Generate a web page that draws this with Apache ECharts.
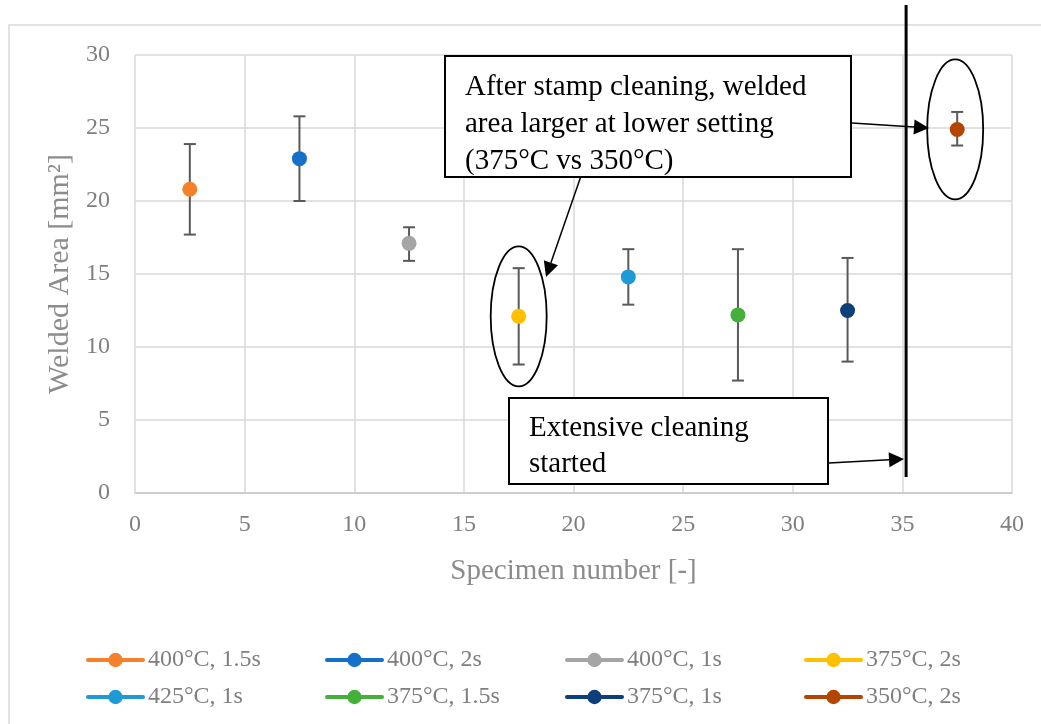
<!DOCTYPE html>
<html>
<head>
<meta charset="utf-8">
<script src="https://cdn.jsdelivr.net/npm/echarts@6/dist/echarts.min.js"></script>
<style>
  html, body { margin: 0; padding: 0; background: #fff; }
  #chart { width: 1041px; height: 724px; }
</style>
</head>
<body>
<div id="chart"></div>
<script>
// Welding trials: mean welded area with min/max spread per parameter set
const seriesNames = ['400°C, 1.5s', '400°C, 2s', '400°C, 1s', '375°C, 2s',
                     '425°C, 1s', '375°C, 1.5s', '375°C, 1s', '350°C, 2s'];
const specimenPos = [2.5, 7.5, 12.5, 17.5, 22.5, 27.5, 32.5, 37.5];
const meanArea    = [20.8, 22.9, 17.1, 12.1, 14.8, 12.2, 12.5, 24.9];
const lowArea     = [17.7, 20.0, 15.9, 8.8, 12.9, 7.7, 9.0, 23.8];
const highArea    = [23.9, 25.8, 18.2, 15.4, 16.7, 16.7, 16.1, 26.1];
const colors      = ['#f5822a', '#1570c8', '#a5a5a5', '#ffc000',
                     '#1e9bd7', '#44b03a', '#0d3f7a', '#b34500'];
const xTicks = [0, 5, 10, 15, 20, 25, 30, 35, 40];
const yTicks = [0, 5, 10, 15, 20, 25, 30];
const cleaningStart = 35.17;          // specimen where extensive cleaning began
const circledIdx = [3, 7];            // 375°C 2s vs 350°C 2s comparison

const FONT = '"Liberation Serif", "Times New Roman", serif';
const GRID = '#d9d9d9';

const chart = echarts.init(document.getElementById('chart'));

const pointSeries = seriesNames.map((name, i) => ({
  name,
  type: 'line',
  data: [[specimenPos[i], meanArea[i]]],
  symbol: 'circle',
  symbolSize: 15,
  showSymbol: true,
  itemStyle: { color: colors[i] },
  lineStyle: { color: colors[i], width: 4 },
  z: 3
}));

const errorSeries = {
  type: 'custom',
  name: 'range',
  data: specimenPos.map((x, i) => [x, lowArea[i], highArea[i]]),
  encode: { x: 0, y: [1, 2] },
  z: 2,
  silent: true,
  renderItem(params, api) {
    const lo = api.coord([api.value(0), api.value(1)]);
    const hi = api.coord([api.value(0), api.value(2)]);
    const w = 6;
    const st = { stroke: '#595959', lineWidth: 2 };
    return {
      type: 'group',
      children: [
        { type: 'line', shape: { x1: lo[0], y1: lo[1], x2: hi[0], y2: hi[1] }, style: st },
        { type: 'line', shape: { x1: lo[0] - w, y1: lo[1], x2: lo[0] + w, y2: lo[1] }, style: st },
        { type: 'line', shape: { x1: hi[0] - w, y1: hi[1], x2: hi[0] + w, y2: hi[1] }, style: st }
      ]
    };
  }
};

const legendCols = [[0, 4], [1, 5], [2, 6], [3, 7]];
const legendLeft = [86, 325, 565, 804];
const legends = legendCols.map((col, c) => ({
  orient: 'vertical',
  left: legendLeft[c],
  top: 648,
  padding: 0,
  itemWidth: 55,
  itemHeight: 18,
  itemGap: 13,
  itemTextGap: 0,
  selectedMode: false,
  lineStyle: { width: 4, cap: 'round' },
  data: col.map(i => seriesNames[i]),
  textStyle: { fontFamily: FONT, fontSize: 24, lineHeight: 24, color: '#7f7f7f' }
}));

chart.setOption({
  animation: false,
  backgroundColor: '#fff',
  grid: { left: 135, right: 29, top: 55, bottom: 231 },
  xAxis: {
    type: 'value', min: 0, max: 40, interval: 5,
    name: 'Specimen number [-]', nameLocation: 'middle', nameGap: 64,
    nameTextStyle: { fontFamily: FONT, fontSize: 29, color: '#8c8c8c', verticalAlign: 'top' },
    axisLine: { show: true, lineStyle: { color: '#c8c8c8', width: 1.5 } },
    axisTick: { show: false },
    axisLabel: { margin: 20, fontFamily: FONT, fontSize: 24, color: '#7f7f7f',
                 formatter: v => xTicks.includes(v) ? String(v) : '' },
    splitLine: { show: true, lineStyle: { color: GRID, width: 1.5 } }
  },
  yAxis: {
    type: 'value', min: 0, max: 30, interval: 5,
    name: 'Welded Area [mm²]', nameLocation: 'middle', nameGap: 58,
    nameTextStyle: { fontFamily: FONT, fontSize: 30, color: '#8c8c8c' },
    axisLine: { show: false },
    axisTick: { show: false },
    axisLabel: { margin: 25, fontFamily: FONT, fontSize: 24, color: '#7f7f7f',
                 formatter: v => yTicks.includes(v) ? String(v) : '' },
    splitLine: { show: true, lineStyle: { color: GRID, width: 1.5 } }
  },
  legend: legends,
  series: [errorSeries, ...pointSeries]
});

// Annotation overlay: call-out boxes, arrows, ellipses and the cleaning marker
function arrow(x1, y1, x2, y2, len, half) {
  const dx = x2 - x1, dy = y2 - y1;
  const d = Math.hypot(dx, dy);
  const ux = dx / d, uy = dy / d;
  const bx = x2 - ux * len, by = y2 - uy * len;
  return [
    { type: 'line', shape: { x1, y1, x2: bx, y2: by }, style: { stroke: '#000', lineWidth: 1.5 }, z: 20 },
    { type: 'polygon', shape: { points: [[x2, y2], [bx - uy * half, by + ux * half], [bx + uy * half, by - ux * half]] },
      style: { fill: '#000' }, z: 20 }
  ];
}

function textBox(x, y, w, h, lines, tx, firstLineY, lineStep) {
  const els = [{ type: 'rect', shape: { x, y, width: w, height: h },
                 style: { fill: '#fff', stroke: '#000', lineWidth: 2 }, z: 15 }];
  lines.forEach((t, k) => els.push({
    type: 'text', x: tx, y: firstLineY + k * lineStep, z: 16,
    style: { text: t, font: '29px ' + FONT, fill: '#000', verticalAlign: 'middle' }
  }));
  return els;
}

const cx = chart.convertToPixel({ xAxisIndex: 0 }, cleaningStart);
const ell = circledIdx.map(i => chart.convertToPixel({ gridIndex: 0 }, [specimenPos[i], meanArea[i]]));
const ellipseY = circledIdx.map(i => chart.convertToPixel({ yAxisIndex: 0 }, (lowArea[i] + highArea[i]) / 2));

const elements = [
  // light frame around the chart area
  { type: 'rect', shape: { x: 9, y: 25, width: 1100, height: 800 },
    style: { fill: 'none', stroke: '#d9d9d9', lineWidth: 1.5 }, z: 0, silent: true },
  { type: 'line', shape: { x1: cx, y1: 5, x2: cx, y2: 477 },
    style: { stroke: '#000', lineWidth: 3 }, z: 18 },
  { type: 'ellipse', shape: { cx: ell[0][0], cy: ellipseY[0], rx: 28, ry: 70 },
    style: { fill: 'none', stroke: '#000', lineWidth: 1.8 }, z: 18 },
  { type: 'ellipse', shape: { cx: ell[1][0] - 2, cy: ell[1][1], rx: 28, ry: 70 },
    style: { fill: 'none', stroke: '#000', lineWidth: 1.8 }, z: 18 },
  ...textBox(445, 56, 406, 121,
    ['After stamp cleaning, welded', 'area larger at lower setting', '(375°C vs 350°C)'], 465, 87, 37),
  ...textBox(509, 398, 319, 86, ['Extensive cleaning', 'started'], 529, 428, 36),
  ...arrow(852, 123, 929, 128, 15, 7.5),
  ...arrow(581, 176, 546, 277, 15, 7.5),
  ...arrow(829, 463, 904, 459, 15, 7.5)
];

chart.setOption({ graphic: { elements } });
</script>
</body>
</html>
